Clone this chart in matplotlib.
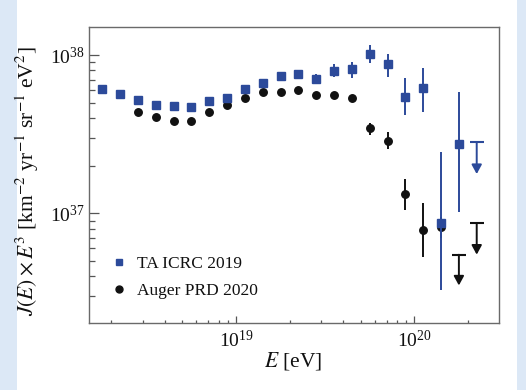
import numpy as np
import matplotlib
matplotlib.use("Agg")
import matplotlib.pyplot as plt
from matplotlib.patches import Rectangle
from matplotlib.lines import Line2D
from matplotlib.ticker import LogLocator, NullFormatter

plt.rcParams['font.family'] = ['Liberation Serif', 'DejaVu Serif']
plt.rcParams['mathtext.fontset'] = 'stix'

# ---- data (J(E) x E^3 in units of 1e37 km^-2 yr^-1 sr^-1 eV^2) ----
ta_logE = [18.25, 18.35, 18.45, 18.55, 18.65, 18.75, 18.85, 18.95, 19.05, 19.15,
           19.25, 19.35, 19.45, 19.55, 19.65, 19.75, 19.85, 19.95, 20.05, 20.15, 20.25]
ta_J = [6.10, 5.65, 5.20, 4.86, 4.74, 4.69, 5.10, 5.37, 6.12, 6.68,
        7.40, 7.59, 7.05, 7.96, 8.12, 10.1, 8.73, 5.46, 6.17, 0.865, 2.74]
ta_lo = [6.10, 5.65, 5.20, 4.86, 4.74, 4.69, 5.10, 5.37, 6.12, 6.68,
         7.40, 7.59, 6.56, 7.23, 7.19, 8.87, 7.30, 4.16, 4.34, 0.327, 1.014]
ta_hi = [6.10, 5.65, 5.20, 4.86, 4.74, 4.69, 5.10, 5.37, 6.12, 6.68,
         7.40, 7.59, 7.59, 8.73, 9.08, 11.5, 10.1, 7.13, 8.32, 2.45, 5.86]
ta_ul_logE = [20.35]
ta_ul_top = [2.81]
ta_ul_tip = [1.77]

au_logE = [18.45, 18.55, 18.65, 18.75, 18.85, 18.95, 19.05, 19.15, 19.25, 19.35,
           19.45, 19.55, 19.65, 19.75, 19.85, 19.95, 20.05, 20.15]
au_J = [4.34, 4.06, 3.85, 3.85, 4.36, 4.83, 5.35, 5.81, 5.81, 5.98,
        5.56, 5.58, 5.32, 3.44, 2.87, 1.318, 0.783, 0.822]
au_lo = [4.34, 4.06, 3.85, 3.85, 4.36, 4.83, 5.35, 5.81, 5.81, 5.98,
         5.56, 5.58, 5.32, 3.12, 2.55, 1.05, 0.527, 0.70]
au_hi = [4.34, 4.06, 3.85, 3.85, 4.36, 4.83, 5.35, 5.81, 5.81, 5.98,
         5.56, 5.58, 5.32, 3.73, 3.25, 1.65, 1.156, 0.95]
au_ul_logE = [20.25, 20.35]
au_ul_top = [0.547, 0.863]
au_ul_tip = [0.350, 0.548]

labels = ['TA ICRC 2019', 'Auger PRD 2020']

unit = 1e37
blue = '#2c4a9a'
black = '#111111'

def E(lg):
    return 10.0 ** np.asarray(lg)

fig = plt.figure(figsize=(5.26, 3.90), dpi=100)
fig.patch.set_facecolor('#dce8f6')
fig.patches.append(Rectangle((17/526, 0), (517-17)/526, 1, transform=fig.transFigure,
                             facecolor='white', edgecolor='none', zorder=-10))

ax = fig.add_axes([89.3/526, 1-323.3/390, (499-89.3)/526, (323.3-27.3)/390])
ax.set_xscale('log')
ax.set_yscale('log')
ax.set_xlim(10**18.177, 10**20.475)
ax.set_ylim(10**36.305, 10**38.175)

def errs(v, lo, hi):
    v = np.asarray(v) * unit
    return v, np.vstack([v - np.asarray(lo) * unit, np.asarray(hi) * unit - v])

# Auger
y, ye = errs(au_J, au_lo, au_hi)
ax.errorbar(E(au_logE), y, yerr=ye, fmt='o', color=black, ms=5.4, elinewidth=1.4,
            capsize=0, zorder=3)
# TA
y, ye = errs(ta_J, ta_lo, ta_hi)
ax.errorbar(E(ta_logE), y, yerr=ye, fmt='s', color=blue, ms=5.2, elinewidth=1.4,
            capsize=0, zorder=4)

def uplims(lg, top, tip, col, z):
    for x, t, b in zip(E(lg), top, tip):
        ax.plot([x], [t * unit], marker='_', ms=10, mew=1.5, color=col, zorder=z)
        ax.annotate('', xy=(x, b * unit), xytext=(x, t * unit),
                    arrowprops=dict(arrowstyle='-|>,head_width=0.3,head_length=0.55',
                                    color=col, lw=1.4, shrinkA=0, shrinkB=0,
                                    mutation_scale=10), zorder=z)

uplims(au_ul_logE, au_ul_top, au_ul_tip, black, 3)
uplims(ta_ul_logE, ta_ul_top, ta_ul_tip, blue, 4)

# axes styling
for s in ax.spines.values():
    s.set_color('#6a6a6a')
    s.set_linewidth(1.0)
ax.xaxis.set_major_locator(LogLocator(base=10, numticks=10))
ax.xaxis.set_minor_locator(LogLocator(base=10, subs=np.arange(2, 10), numticks=20))
ax.yaxis.set_major_locator(LogLocator(base=10, numticks=10))
ax.yaxis.set_minor_locator(LogLocator(base=10, subs=np.arange(2, 10), numticks=20))
ax.xaxis.set_minor_formatter(NullFormatter())
ax.yaxis.set_minor_formatter(NullFormatter())
ax.tick_params(which='both', direction='in', color='#555555', width=0.9,
               top=False, right=False, labelsize=14, labelcolor='#111111')
ax.tick_params(axis='x', which='major', length=5, pad=5)
ax.tick_params(axis='x', which='minor', length=2.5)
ax.tick_params(axis='y', which='major', length=7.5, pad=3)
ax.tick_params(axis='y', which='minor', length=4.3)

fig.text(293.5/526, 1-360.7/390, r'$E$ [eV]', ha='center', va='center',
         fontsize=15.5, color='#111111')
fig.text(27.5/526, 1-181.5/390,
         r'$J(E)\times E^3$ [km$^{-2}$ yr$^{-1}$ sr$^{-1}$ eV$^2$]',
         rotation=90, ha='center', va='center', fontsize=15.5, color='#111111')

handles = [Line2D([], [], ls='none', marker='s', ms=4.8, color=blue),
           Line2D([], [], ls='none', marker='o', ms=5.0, color=black)]
leg = ax.legend(handles, labels, loc='upper left',
                bbox_to_anchor=(0.012, 0.281), frameon=False, fontsize=12.5,
                handlelength=1.0, handletextpad=0.55, labelspacing=0.62)
for t in leg.get_texts():
    t.set_color('#111111')

fig.savefig('out.png', dpi=100, facecolor=fig.get_facecolor())
